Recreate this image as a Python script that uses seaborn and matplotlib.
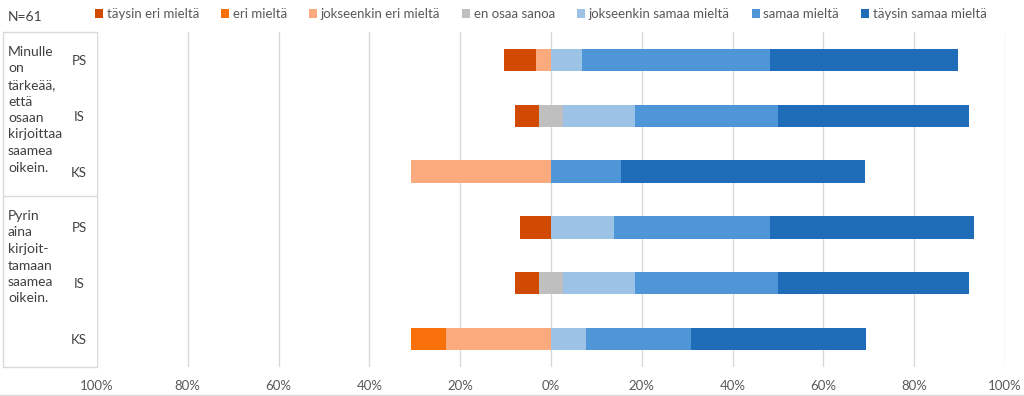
import numpy as np
import matplotlib.pyplot as plt
import seaborn as sns
from matplotlib.patches import Patch
from matplotlib.lines import Line2D

# Shares of answers (%) per row
rows = ['Minulle PS', 'Minulle IS', 'Minulle KS', 'Pyrin PS', 'Pyrin IS', 'Pyrin KS']
row_labels = ['PS', 'IS', 'KS', 'PS', 'IS', 'KS']
questions = ['Minulle\non\ntärkeää,\nettä\nosaan\nkirjoittaa\nsaamea\noikein.',
             'Pyrin\naina\nkirjoit-\ntamaan\nsaamea\noikein.']
categories = ['täysin eri mieltä', 'eri mieltä', 'jokseenkin eri mieltä', 'en osaa sanoa',
              'jokseenkin samaa mieltä', 'samaa mieltä', 'täysin samaa mieltä']
colors = ['#D04A02', '#F8700A', '#FBAA7E', '#BFBFBF', '#9CC3E5', '#4E96D8', '#1F6DB8']

taysin_eri = [6.9, 5.3, 0, 6.9, 5.3, 0]
eri = [0, 0, 0, 0, 0, 7.7]
jok_eri = [3.4, 0, 30.8, 0, 0, 23.1]
en_osaa = [0, 5.3, 0, 0, 5.3, 0]
jok_samaa = [6.9, 15.8, 0, 13.8, 15.8, 7.7]
samaa = [41.4, 31.6, 15.4, 34.5, 31.6, 23.1]
taysin_samaa = [41.4, 42.1, 53.8, 44.8, 42.1, 38.5]

sns.set_style('white')
plt.rcParams['font.family'] = ['Lato', 'DejaVu Sans']

W, H = 1024, 396
fig = plt.figure(figsize=(W / 100, H / 100), dpi=100)
ax = fig.add_axes([97 / W, 1 - 367 / H, 908 / W, 335 / H])

# diverging stack: "en osaa sanoa" split around zero
half = np.array(en_osaa) / 2
neg1 = -half
neg2 = neg1 - np.array(jok_eri)
neg3 = neg2 - np.array(eri)
neg4 = neg3 - np.array(taysin_eri)
pos1 = half
pos2 = pos1 + np.array(jok_samaa)
pos3 = pos2 + np.array(samaa)
pos4 = pos3 + np.array(taysin_samaa)

layers = [(neg4, colors[0]), (neg3, colors[1]), (neg2, colors[2]), (neg1, colors[3]),
          (pos4, colors[6]), (pos3, colors[5]), (pos2, colors[4]), (pos1, colors[3])]
for vals, col in layers:
    sns.barplot(x=vals, y=rows, orient='h', color=col, saturation=1,
                width=0.4, linewidth=0, ax=ax)

ax.set_xlim(-100, 100)
ax.set_ylim(5.5, -0.5)
ticks = list(range(-100, 101, 20))
ax.set_xticks(ticks)
ax.set_xticklabels([f'{abs(t)}%' for t in ticks])
ax.set_yticks(range(len(rows)))
ax.set_yticklabels(row_labels)
ax.set_xlabel('')
ax.set_ylabel('')
ax.xaxis.grid(True, color='#D9D9D9', lw=1)
ax.set_axisbelow(True)
for s in ax.spines.values():
    s.set_visible(False)
ax.tick_params(axis='x', length=0, pad=9, labelsize=9.5, labelcolor='#595959')
ax.tick_params(axis='y', length=0, pad=13, labelsize=9.5, labelcolor='#404040')
for lbl in ax.get_yticklabels():
    lbl.set_horizontalalignment('center')

# table lines on the left
line_kw = dict(transform=fig.transFigure, color='#D9D9D9', lw=1)
for y in [32, 196, 367]:
    fig.add_artist(Line2D([3 / W, 97 / W], [1 - y / H, 1 - y / H], **line_kw))
fig.add_artist(Line2D([3 / W, 3 / W], [1 - 32 / H, 1 - 367 / H], **line_kw))
fig.add_artist(Line2D([0, 1], [1 - 395 / H, 1 - 395 / H], **line_kw))

fig.text(8 / W, 1 - 46 / H, questions[0], va='top', ha='left', fontsize=10,
         linespacing=1.45, color='#404040')
fig.text(8 / W, 1 - 210 / H, questions[1], va='top', ha='left', fontsize=10,
         linespacing=1.45, color='#404040')
fig.text(8 / W, 1 - 17 / H, 'N=61', va='center', ha='left', fontsize=10, color='#404040')

handles = [Patch(facecolor=c, edgecolor='none') for c in colors]
fig.legend(handles, categories, loc='center left', bbox_to_anchor=(95 / W, 1 - 14 / H),
           ncol=7, frameon=False, fontsize=9.5, labelcolor='#595959',
           handlelength=0.6, handleheight=0.6, handletextpad=0.3, columnspacing=1.65,
           borderaxespad=0, borderpad=0)

fig.savefig('out.png', dpi=100)
